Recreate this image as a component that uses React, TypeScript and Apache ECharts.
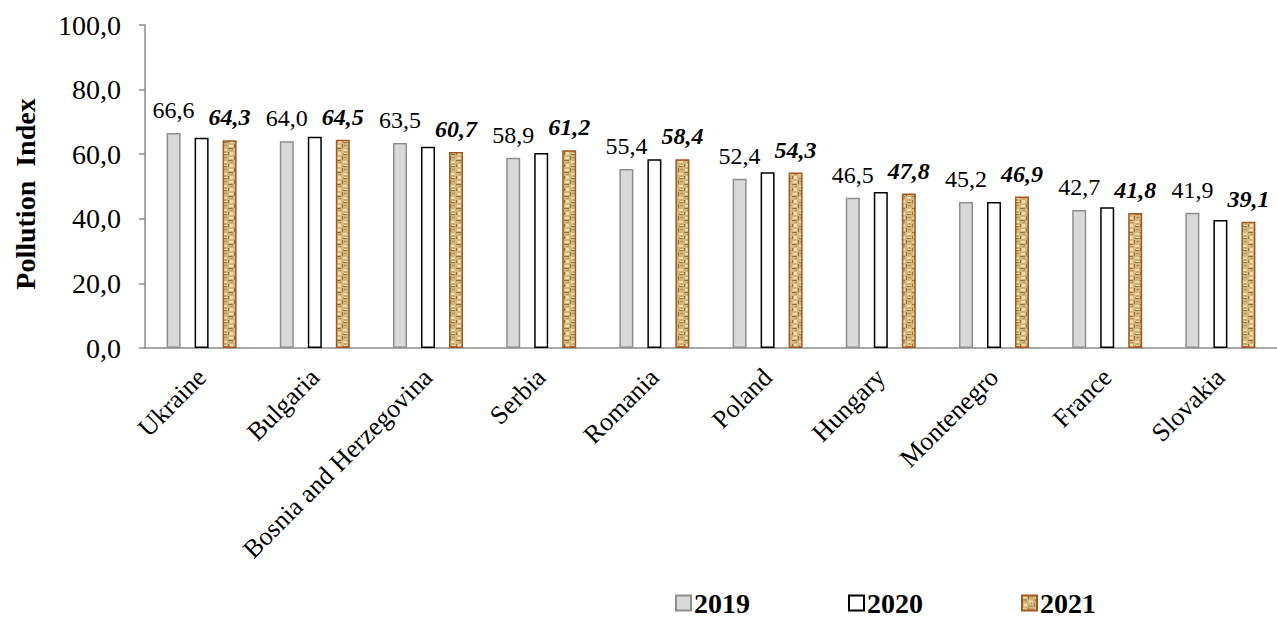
import React, { useEffect, useRef } from "react";
import * as echarts from "echarts";

const categories = [
  "Ukraine",
  "Bulgaria",
  "Bosnia and Herzegovina",
  "Serbia",
  "Romania",
  "Poland",
  "Hungary",
  "Montenegro",
  "France",
  "Slovakia",
];
const values2019 = [66.6, 64.0, 63.5, 58.9, 55.4, 52.4, 46.5, 45.2, 42.7, 41.9];
const values2020 = [65.1, 65.4, 62.3, 60.4, 58.4, 54.4, 48.3, 45.2, 43.6, 39.6];
const values2021 = [64.3, 64.5, 60.7, 61.2, 58.4, 54.3, 47.8, 46.9, 41.8, 39.1];
const seriesNames = ["2019", "2020", "2021"];
const yTicks = { min: 0, max: 100, interval: 20 };
const yTitle = "Pollution  Index";

const FONT = "Liberation Serif";

function makePattern(): string {
  const c = document.createElement("canvas");
  c.width = 12;
  c.height = 12;
  const g = c.getContext("2d")!;
  g.fillStyle = "#D2B67C";
  g.fillRect(0, 0, 12, 12);
  g.fillStyle = "#EEDDAE";
  g.fillRect(1, 1, 4, 2);
  g.fillRect(7, 5, 4, 2);
  g.fillRect(2, 8, 3, 3);
  g.fillRect(8, 9, 3, 1);
  g.fillStyle = "#94723A";
  g.fillRect(0, 4, 5, 1);
  g.fillRect(6, 0, 1, 4);
  g.fillRect(7, 10, 4, 1);
  g.fillRect(0, 8, 1, 3);
  g.fillStyle = "#B39352";
  g.fillRect(8, 1, 3, 1);
  g.fillRect(3, 6, 2, 1);
  g.fillRect(9, 7, 1, 2);
  return c.toDataURL();
}

export default function App() {
  const ref = useRef<HTMLDivElement>(null);
  useEffect(() => {
    if (!ref.current) return;
    const chart = echarts.init(ref.current, undefined, { renderer: "svg" });
    const pattern = {
      image: makePattern(),
      repeat: "repeat",
      imageWidth: 12,
      imageHeight: 12,
    } as any;
    const fmt = (v: number) => v.toFixed(1).replace(".", ",");
    chart.setOption({
      animation: false,
      backgroundColor: "#ffffff",
      textStyle: { fontFamily: FONT, color: "#000" },
      grid: { left: 145, top: 25, width: 1140, height: 323 },
      graphic: [
        {
          type: "text",
          x: 25,
          y: 194,
          rotation: Math.PI / 2,
          style: {
            text: yTitle,
            fontFamily: FONT,
            fontSize: 28,
            fontWeight: "bold",
            fill: "#000",
            align: "center",
            verticalAlign: "middle",
          },
        },
      ],
      legend: {
        data: seriesNames,
        left: 670,
        top: 584,
        icon: "rect",
        itemWidth: 15,
        itemHeight: 15,
        itemGap: 98,
        selectedMode: false,
        textStyle: { fontFamily: FONT, fontSize: 28, fontWeight: "bold", color: "#000", padding: [0, 0, 0, -2] },
      },
      xAxis: {
        type: "category",
        data: categories,
        axisLine: { lineStyle: { color: "#8c8c8c", width: 1.5 } },
        axisTick: { interval: 0, length: 6, lineStyle: { color: "#8c8c8c", width: 1.5 } },
        axisLabel: {
          interval: 0,
          rotate: 45,
          margin: 25,
          fontFamily: FONT,
          fontSize: 26,
          color: "#000",
        },
      },
      yAxis: {
        type: "value",
        min: yTicks.min,
        max: yTicks.max,
        interval: yTicks.interval,
        axisLine: { show: true, lineStyle: { color: "#8c8c8c", width: 1.5 } },
        axisTick: { show: true, length: 6, lineStyle: { color: "#8c8c8c", width: 1.5 } },
        splitLine: { show: false },
        axisLabel: {
          formatter: fmt,
          margin: 24,
          fontFamily: FONT,
          fontSize: 28,
          color: "#000",
        },
      },
      series: [
        {
          name: "2019",
          type: "bar",
          data: values2019,
          barWidth: 14,
          barGap: "100%",
          itemStyle: { color: "#D9D9D9", borderColor: "#8f8f8f", borderWidth: 1.5 },
          label: {
            show: true,
            position: "top",
            distance: 11,
            formatter: (p: any) => fmt(p.value),
            fontFamily: FONT,
            fontSize: 24,
            color: "#000",
          },
        },
        {
          name: "2020",
          type: "bar",
          data: values2020,
          barWidth: 14,
          barGap: "100%",
          itemStyle: { color: "#ffffff", borderColor: "#000000", borderWidth: 1.5 },
        },
        {
          name: "2021",
          type: "bar",
          data: values2021,
          barWidth: 14,
          barGap: "100%",
          itemStyle: { color: pattern, borderColor: "#A4561E", borderWidth: 1.5 },
          label: {
            show: true,
            position: "top",
            distance: 11,
            formatter: (p: any) => fmt(p.value),
            fontFamily: FONT,
            fontSize: 24,
            fontWeight: "bold",
            fontStyle: "italic",
            color: "#000",
          },
        },
      ],
    });
    return () => chart.dispose();
  }, []);
  return (
    <div
      ref={ref}
      style={{ position: "fixed", left: 0, top: 0, width: 1277, height: 619 }}
    />
  );
}
